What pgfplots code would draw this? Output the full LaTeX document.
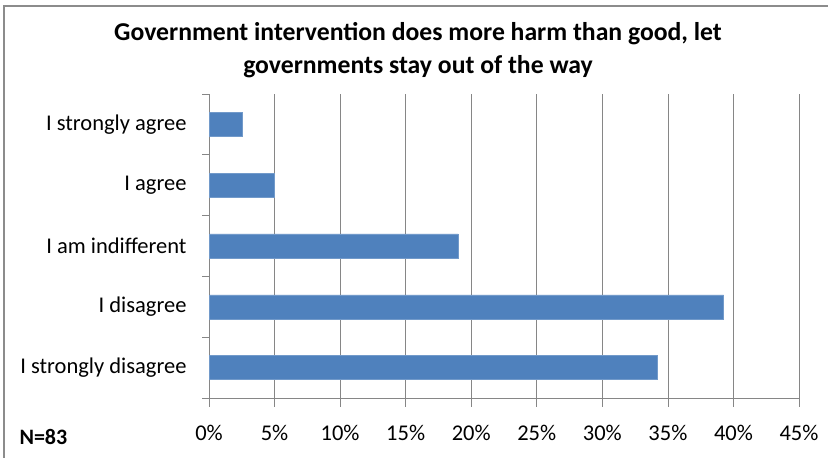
\documentclass[border=0pt]{standalone}
\usepackage{pgfplots}
\pgfplotsset{compat=1.18}
\usepackage{fontspec}
\setmainfont{Carlito}
\definecolor{barblue}{HTML}{4F81BD}
\definecolor{gridgray}{HTML}{868686}
\definecolor{framegray}{HTML}{8C8C8C}
\begin{document}
\begin{tikzpicture}[x=1bp,y=1bp]
\useasboundingbox (0,0) rectangle (828,458);
\draw[framegray, line width=1.2bp] (4,0) -- (4,452) -- (828,452);
\node[font=\fontsize{25.7bp}{33bp}\selectfont\bfseries, align=center] at (418,408)
  {Government intervention does more harm than good, let\\governments stay out of the way};
\node[font=\fontsize{22bp}{25bp}\selectfont\bfseries, anchor=west] at (16,21) {N=83};
\begin{axis}[
  at={(209bp,60bp)}, anchor=south west,
  scale only axis, width=590bp, height=304bp,
  xbar, bar width=24bp,
  xmin=0, xmax=45, ymin=-0.5, ymax=4.5,
  xtick={0,5,...,45},
  xticklabels={0\%,5\%,10\%,15\%,20\%,25\%,30\%,35\%,40\%,45\%},
  ytick={0,1,2,3,4},
  yticklabels={I strongly disagree,I disagree,I am indifferent,I agree,I strongly agree},
  minor ytick={-0.5,0.5,...,4.5},
  tick align=outside,
  major tick length=9bp, minor tick length=7bp,
  major y tick style={draw=none},
  minor y tick style={draw=gridgray, line width=0.8bp},
  major x tick style={draw=gridgray, line width=0.8bp},
  axis x line*=bottom, axis y line*=left,
  axis line style={draw=gridgray, line width=0.8bp, -},
  xmajorgrids, major grid style={draw=gridgray, line width=0.8bp},
  tick label style={font=\fontsize{22.5bp}{25bp}\selectfont},
  xticklabel style={anchor=center, yshift=-26bp},
  yticklabel style={anchor=east, xshift=-10bp},
  /pgf/number format/assume math mode=true,
  clip=false,
]
\addplot[fill=barblue, draw=barblue!80!white] coordinates {
  (34.2,0) (39.25,1) (19.0,2) (5.0,3) (2.55,4)
};
\end{axis}
\end{tikzpicture}
\end{document}
